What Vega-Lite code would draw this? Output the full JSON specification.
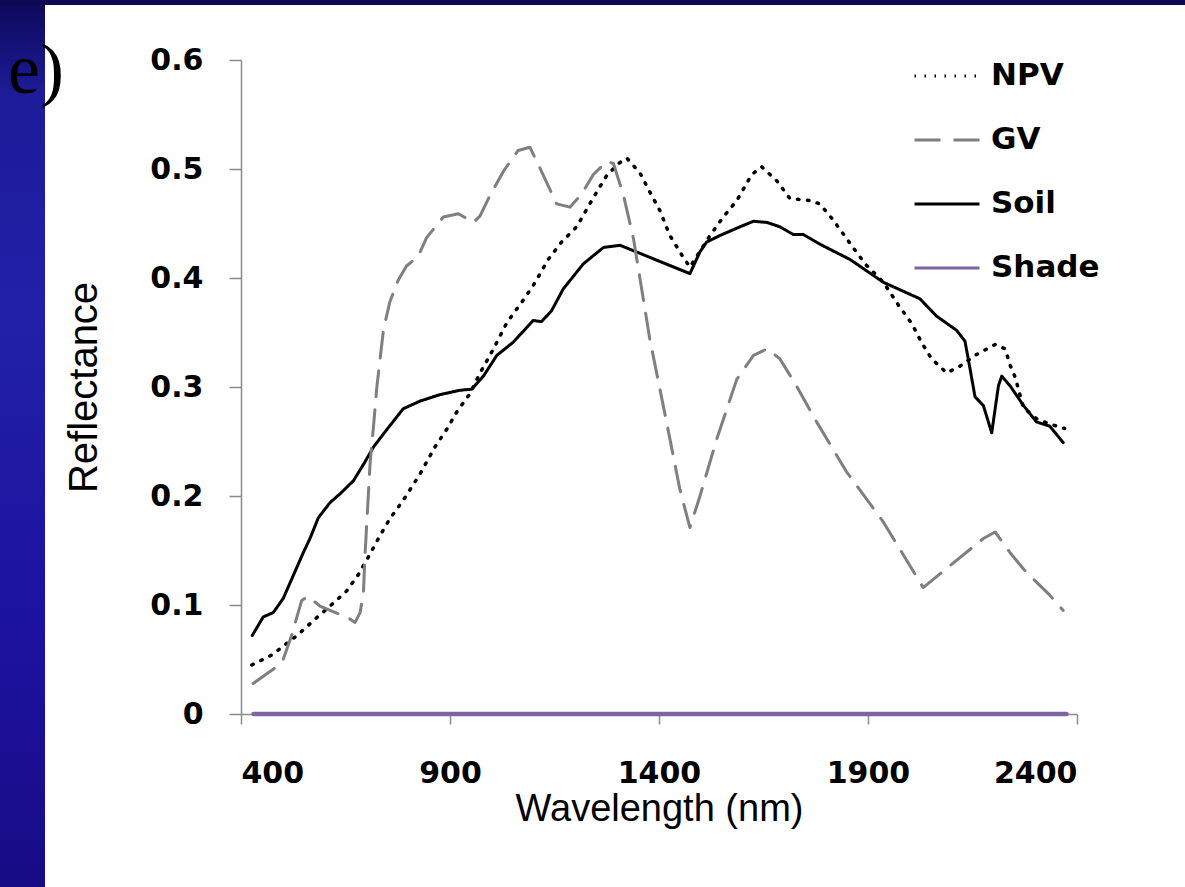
{
  "$schema": "https://vega.github.io/schema/vega-lite/v6.json",
  "background": "white",
  "padding": 0,
  "spacing": 0,
  "config": {"view": {"stroke": null}},
  "vconcat": [
    {
      "width": 1185, "height": 5,
      "data": {"values": [{}]},
      "mark": {"type": "rect", "fill": "#0c0752"}
    },
    {
      "spacing": 0,
      "hconcat": [
        {
          "width": 45, "height": 882,
          "data": {"values": [{}]},
          "mark": {"type": "rect", "fill": {"gradient": "linear", "x1": 0, "y1": 0, "x2": 0, "y2": 1,
            "stops": [{"offset": 0, "color": "#0d0a5c"}, {"offset": 0.1, "color": "#1d1b98"}, {"offset": 0.35, "color": "#2220a8"}, {"offset": 0.7, "color": "#1c12a0"}, {"offset": 1, "color": "#170c84"}]}},
          "title": {"text": "e)", "orient": "top", "anchor": "start", "frame": "group", "offset": -160, "dx": 8, "font": "Liberation Serif", "fontSize": 72, "fontWeight": "normal", "color": "#000000", "baseline": "alphabetic"}
        },
        {
          "spacing": 0,
          "vconcat": [
            {"width": 1, "height": 40, "data": {"values": []}, "mark": "rect"},
            {
              "width": 836, "height": 654,
              "data": {"values": [
                {"series":"Shade","wavelength":430,"reflectance":0},
                {"series":"Shade","wavelength":2375,"reflectance":0},
                {"series":"Soil","wavelength":427,"reflectance":0.072},
                {"series":"Soil","wavelength":453,"reflectance":0.089},
                {"series":"Soil","wavelength":477,"reflectance":0.093},
                {"series":"Soil","wavelength":501,"reflectance":0.106},
                {"series":"Soil","wavelength":525,"reflectance":0.127},
                {"series":"Soil","wavelength":549,"reflectance":0.148},
                {"series":"Soil","wavelength":565,"reflectance":0.161},
                {"series":"Soil","wavelength":585,"reflectance":0.180},
                {"series":"Soil","wavelength":613,"reflectance":0.194},
                {"series":"Soil","wavelength":637,"reflectance":0.202},
                {"series":"Soil","wavelength":669,"reflectance":0.214},
                {"series":"Soil","wavelength":693,"reflectance":0.229},
                {"series":"Soil","wavelength":717,"reflectance":0.245},
                {"series":"Soil","wavelength":749,"reflectance":0.261},
                {"series":"Soil","wavelength":788,"reflectance":0.280},
                {"series":"Soil","wavelength":828,"reflectance":0.287},
                {"series":"Soil","wavelength":876,"reflectance":0.293},
                {"series":"Soil","wavelength":924,"reflectance":0.297},
                {"series":"Soil","wavelength":952,"reflectance":0.298},
                {"series":"Soil","wavelength":980,"reflectance":0.310},
                {"series":"Soil","wavelength":1012,"reflectance":0.329},
                {"series":"Soil","wavelength":1051,"reflectance":0.341},
                {"series":"Soil","wavelength":1099,"reflectance":0.361},
                {"series":"Soil","wavelength":1119,"reflectance":0.360},
                {"series":"Soil","wavelength":1143,"reflectance":0.370},
                {"series":"Soil","wavelength":1171,"reflectance":0.390},
                {"series":"Soil","wavelength":1219,"reflectance":0.413},
                {"series":"Soil","wavelength":1267,"reflectance":0.428},
                {"series":"Soil","wavelength":1307,"reflectance":0.430},
                {"series":"Soil","wavelength":1339,"reflectance":0.425},
                {"series":"Soil","wavelength":1474,"reflectance":0.404},
                {"series":"Soil","wavelength":1498,"reflectance":0.424},
                {"series":"Soil","wavelength":1514,"reflectance":0.433},
                {"series":"Soil","wavelength":1546,"reflectance":0.439},
                {"series":"Soil","wavelength":1594,"reflectance":0.447},
                {"series":"Soil","wavelength":1626,"reflectance":0.452},
                {"series":"Soil","wavelength":1658,"reflectance":0.451},
                {"series":"Soil","wavelength":1689,"reflectance":0.447},
                {"series":"Soil","wavelength":1721,"reflectance":0.440},
                {"series":"Soil","wavelength":1745,"reflectance":0.440},
                {"series":"Soil","wavelength":1785,"reflectance":0.431},
                {"series":"Soil","wavelength":1857,"reflectance":0.417},
                {"series":"Soil","wavelength":1937,"reflectance":0.396},
                {"series":"Soil","wavelength":2024,"reflectance":0.381},
                {"series":"Soil","wavelength":2064,"reflectance":0.365},
                {"series":"Soil","wavelength":2112,"reflectance":0.352},
                {"series":"Soil","wavelength":2132,"reflectance":0.342},
                {"series":"Soil","wavelength":2144,"reflectance":0.317},
                {"series":"Soil","wavelength":2156,"reflectance":0.291},
                {"series":"Soil","wavelength":2176,"reflectance":0.283},
                {"series":"Soil","wavelength":2196,"reflectance":0.258},
                {"series":"Soil","wavelength":2212,"reflectance":0.301},
                {"series":"Soil","wavelength":2220,"reflectance":0.310},
                {"series":"Soil","wavelength":2240,"reflectance":0.301},
                {"series":"Soil","wavelength":2272,"reflectance":0.283},
                {"series":"Soil","wavelength":2303,"reflectance":0.268},
                {"series":"Soil","wavelength":2335,"reflectance":0.264},
                {"series":"Soil","wavelength":2367,"reflectance":0.249},
                {"series":"NPV","wavelength":426,"reflectance":0.045},
                {"series":"NPV","wavelength":473,"reflectance":0.054},
                {"series":"NPV","wavelength":497,"reflectance":0.061},
                {"series":"NPV","wavelength":537,"reflectance":0.073},
                {"series":"NPV","wavelength":577,"reflectance":0.087},
                {"series":"NPV","wavelength":613,"reflectance":0.099},
                {"series":"NPV","wavelength":653,"reflectance":0.113},
                {"series":"NPV","wavelength":681,"reflectance":0.128},
                {"series":"NPV","wavelength":709,"reflectance":0.147},
                {"series":"NPV","wavelength":733,"reflectance":0.164},
                {"series":"NPV","wavelength":756,"reflectance":0.179},
                {"series":"NPV","wavelength":788,"reflectance":0.196},
                {"series":"NPV","wavelength":828,"reflectance":0.220},
                {"series":"NPV","wavelength":864,"reflectance":0.245},
                {"series":"NPV","wavelength":892,"reflectance":0.261},
                {"series":"NPV","wavelength":916,"reflectance":0.277},
                {"series":"NPV","wavelength":948,"reflectance":0.294},
                {"series":"NPV","wavelength":968,"reflectance":0.310},
                {"series":"NPV","wavelength":1004,"reflectance":0.335},
                {"series":"NPV","wavelength":1036,"reflectance":0.359},
                {"series":"NPV","wavelength":1072,"reflectance":0.378},
                {"series":"NPV","wavelength":1099,"reflectance":0.393},
                {"series":"NPV","wavelength":1135,"reflectance":0.417},
                {"series":"NPV","wavelength":1167,"reflectance":0.433},
                {"series":"NPV","wavelength":1203,"reflectance":0.447},
                {"series":"NPV","wavelength":1227,"reflectance":0.463},
                {"series":"NPV","wavelength":1251,"reflectance":0.479},
                {"series":"NPV","wavelength":1275,"reflectance":0.494},
                {"series":"NPV","wavelength":1303,"reflectance":0.505},
                {"series":"NPV","wavelength":1323,"reflectance":0.510},
                {"series":"NPV","wavelength":1355,"reflectance":0.496},
                {"series":"NPV","wavelength":1378,"reflectance":0.479},
                {"series":"NPV","wavelength":1402,"reflectance":0.462},
                {"series":"NPV","wavelength":1426,"reflectance":0.439},
                {"series":"NPV","wavelength":1458,"reflectance":0.419},
                {"series":"NPV","wavelength":1474,"reflectance":0.410},
                {"series":"NPV","wavelength":1522,"reflectance":0.439},
                {"series":"NPV","wavelength":1554,"reflectance":0.456},
                {"series":"NPV","wavelength":1586,"reflectance":0.471},
                {"series":"NPV","wavelength":1622,"reflectance":0.495},
                {"series":"NPV","wavelength":1646,"reflectance":0.502},
                {"series":"NPV","wavelength":1682,"reflectance":0.489},
                {"series":"NPV","wavelength":1713,"reflectance":0.473},
                {"series":"NPV","wavelength":1761,"reflectance":0.471},
                {"series":"NPV","wavelength":1785,"reflectance":0.468},
                {"series":"NPV","wavelength":1817,"reflectance":0.453},
                {"series":"NPV","wavelength":1849,"reflectance":0.436},
                {"series":"NPV","wavelength":1893,"reflectance":0.413},
                {"series":"NPV","wavelength":1937,"reflectance":0.396},
                {"series":"NPV","wavelength":1973,"reflectance":0.375},
                {"series":"NPV","wavelength":2005,"reflectance":0.358},
                {"series":"NPV","wavelength":2028,"reflectance":0.341},
                {"series":"NPV","wavelength":2052,"reflectance":0.326},
                {"series":"NPV","wavelength":2088,"reflectance":0.313},
                {"series":"NPV","wavelength":2116,"reflectance":0.318},
                {"series":"NPV","wavelength":2156,"reflectance":0.329},
                {"series":"NPV","wavelength":2204,"reflectance":0.339},
                {"series":"NPV","wavelength":2228,"reflectance":0.335},
                {"series":"NPV","wavelength":2240,"reflectance":0.320},
                {"series":"NPV","wavelength":2252,"reflectance":0.309},
                {"series":"NPV","wavelength":2272,"reflectance":0.281},
                {"series":"NPV","wavelength":2303,"reflectance":0.271},
                {"series":"NPV","wavelength":2335,"reflectance":0.266},
                {"series":"NPV","wavelength":2370,"reflectance":0.262},
                {"series":"GV","wavelength":429,"reflectance":0.028},
                {"series":"GV","wavelength":477,"reflectance":0.041},
                {"series":"GV","wavelength":501,"reflectance":0.050},
                {"series":"GV","wavelength":521,"reflectance":0.072},
                {"series":"GV","wavelength":545,"reflectance":0.104},
                {"series":"GV","wavelength":560,"reflectance":0.108},
                {"series":"GV","wavelength":589,"reflectance":0.099},
                {"series":"GV","wavelength":613,"reflectance":0.095},
                {"series":"GV","wavelength":653,"reflectance":0.089},
                {"series":"GV","wavelength":673,"reflectance":0.084},
                {"series":"GV","wavelength":685,"reflectance":0.093},
                {"series":"GV","wavelength":693,"reflectance":0.112},
                {"series":"GV","wavelength":697,"reflectance":0.148},
                {"series":"GV","wavelength":701,"reflectance":0.176},
                {"series":"GV","wavelength":709,"reflectance":0.231},
                {"series":"GV","wavelength":717,"reflectance":0.264},
                {"series":"GV","wavelength":725,"reflectance":0.300},
                {"series":"GV","wavelength":741,"reflectance":0.353},
                {"series":"GV","wavelength":756,"reflectance":0.378},
                {"series":"GV","wavelength":776,"reflectance":0.398},
                {"series":"GV","wavelength":796,"reflectance":0.411},
                {"series":"GV","wavelength":824,"reflectance":0.420},
                {"series":"GV","wavelength":844,"reflectance":0.437},
                {"series":"GV","wavelength":884,"reflectance":0.456},
                {"series":"GV","wavelength":920,"reflectance":0.459},
                {"series":"GV","wavelength":956,"reflectance":0.451},
                {"series":"GV","wavelength":972,"reflectance":0.457},
                {"series":"GV","wavelength":996,"reflectance":0.476},
                {"series":"GV","wavelength":1028,"reflectance":0.498},
                {"series":"GV","wavelength":1063,"reflectance":0.517},
                {"series":"GV","wavelength":1091,"reflectance":0.520},
                {"series":"GV","wavelength":1115,"reflectance":0.501},
                {"series":"GV","wavelength":1155,"reflectance":0.468},
                {"series":"GV","wavelength":1187,"reflectance":0.465},
                {"series":"GV","wavelength":1215,"reflectance":0.477},
                {"series":"GV","wavelength":1243,"reflectance":0.495},
                {"series":"GV","wavelength":1275,"reflectance":0.507},
                {"series":"GV","wavelength":1291,"reflectance":0.505},
                {"series":"GV","wavelength":1315,"reflectance":0.476},
                {"series":"GV","wavelength":1339,"reflectance":0.436},
                {"series":"GV","wavelength":1378,"reflectance":0.344},
                {"series":"GV","wavelength":1418,"reflectance":0.268},
                {"series":"GV","wavelength":1450,"reflectance":0.206},
                {"series":"GV","wavelength":1474,"reflectance":0.171},
                {"series":"GV","wavelength":1498,"reflectance":0.200},
                {"series":"GV","wavelength":1538,"reflectance":0.252},
                {"series":"GV","wavelength":1586,"reflectance":0.307},
                {"series":"GV","wavelength":1626,"reflectance":0.329},
                {"series":"GV","wavelength":1658,"reflectance":0.335},
                {"series":"GV","wavelength":1689,"reflectance":0.326},
                {"series":"GV","wavelength":1729,"reflectance":0.301},
                {"series":"GV","wavelength":1777,"reflectance":0.268},
                {"series":"GV","wavelength":1849,"reflectance":0.222},
                {"series":"GV","wavelength":1937,"reflectance":0.176},
                {"series":"GV","wavelength":2032,"reflectance":0.116},
                {"series":"GV","wavelength":2096,"reflectance":0.136},
                {"series":"GV","wavelength":2176,"reflectance":0.161},
                {"series":"GV","wavelength":2204,"reflectance":0.167},
                {"series":"GV","wavelength":2240,"reflectance":0.148},
                {"series":"GV","wavelength":2272,"reflectance":0.133},
                {"series":"GV","wavelength":2303,"reflectance":0.121},
                {"series":"GV","wavelength":2335,"reflectance":0.109},
                {"series":"GV","wavelength":2367,"reflectance":0.095}
              ]},
              "mark": {"type": "line", "strokeCap": "round", "strokeJoin": "round"},
              "encoding": {
                "x": {"field": "wavelength", "type": "quantitative",
                  "scale": {"domain": [400, 2400], "nice": false, "zero": false},
                  "axis": {"title": "Wavelength (nm)", "values": [400, 900, 1400, 1900, 2400], "format": "d", "grid": false,
                    "domainColor": "#8a8a8a", "domainWidth": 1.5, "tickColor": "#8a8a8a", "tickWidth": 1.5, "tickSize": 10,
                    "labelFont": "DejaVu Sans", "labelFontWeight": "bold", "labelFontSize": 30, "labelColor": "#000000", "labelPadding": 34,
                    "titleFont": "Liberation Sans", "titleFontWeight": "normal", "titleFontSize": 38, "titleColor": "#000000", "titlePadding": 2}},
                "y": {"field": "reflectance", "type": "quantitative",
                  "scale": {"domain": [0, 0.6], "nice": false},
                  "axis": {"title": "Reflectance", "values": [0, 0.1, 0.2, 0.3, 0.4, 0.5, 0.6], "format": "~g", "grid": false,
                    "domainColor": "#8a8a8a", "domainWidth": 1.5, "tickColor": "#8a8a8a", "tickWidth": 1.5, "tickSize": 12,
                    "labelFont": "DejaVu Sans", "labelFontWeight": "bold", "labelFontSize": 30, "labelColor": "#000000", "labelPadding": 26,
                    "titleFont": "Liberation Sans", "titleFontWeight": "normal", "titleFontSize": 40, "titleColor": "#000000", "titlePadding": 45}},
                "color": {"field": "series", "type": "nominal",
                  "scale": {"domain": ["NPV", "GV", "Soil", "Shade"], "range": ["#000000", "#7f7f7f", "#000000", "#8064a2"]},
                  "legend": {"title": null, "orient": "none", "legendX": 913, "legendY": 42, "padding": 0, "rowPadding": 15,
                    "symbolType": "stroke", "symbolSize": 4225, "symbolStrokeWidth": 3,
                    "labelFont": "DejaVu Sans", "labelFontWeight": "bold", "labelFontSize": 31, "labelColor": "#000000", "labelOffset": 10}},
                "strokeDash": {"field": "series", "type": "nominal",
                  "scale": {"domain": ["NPV", "GV", "Soil", "Shade"], "range": [[1.5, 8.5], [26, 13], [1, 0], [1, 0]]},
                  "legend": {"title": null, "orient": "none", "legendX": 913, "legendY": 42, "padding": 0, "rowPadding": 15,
                    "symbolType": "stroke", "symbolSize": 4225, "symbolStrokeWidth": 3,
                    "labelFont": "DejaVu Sans", "labelFontWeight": "bold", "labelFontSize": 31, "labelColor": "#000000", "labelOffset": 10}},
                "strokeWidth": {"condition": [{"test": "datum.series === 'Shade'", "value": 4.5}, {"test": "datum.series === 'NPV'", "value": 3.5}], "value": 3}
              }
            }
          ]
        }
      ]
    }
  ]
}
